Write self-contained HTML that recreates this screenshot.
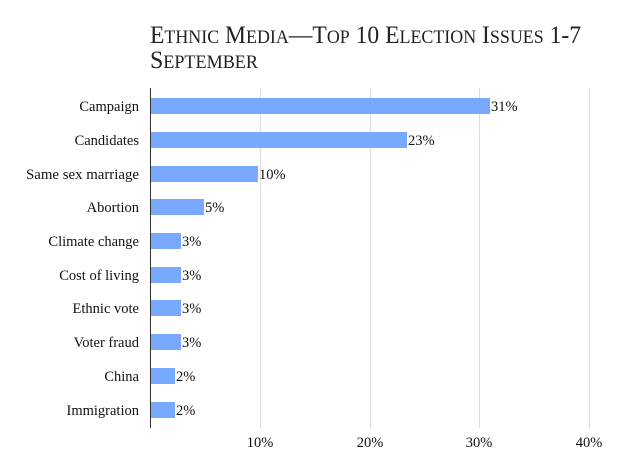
<!DOCTYPE html>
<html><head><meta charset="utf-8"><style>body{margin:0;background:#fff}svg{display:block}text{font-family:"Liberation Serif","DejaVu Serif",serif}</style></head><body>
<svg width="629" height="472" xmlns="http://www.w3.org/2000/svg">
<text x="150" y="43" font-size="25" fill="#222" textLength="431" lengthAdjust="spacingAndGlyphs">E<tspan font-size="19">THNIC</tspan> M<tspan font-size="19">EDIA</tspan>—T<tspan font-size="19">OP</tspan> 10 E<tspan font-size="19">LECTION</tspan> I<tspan font-size="19">SSUES</tspan> 1-7</text>
<text x="150" y="68" font-size="25" fill="#222" textLength="108" lengthAdjust="spacingAndGlyphs">S<tspan font-size="19">EPTEMBER</tspan></text>
<g stroke="#ddd" stroke-width="1">
<line x1="260.5" y1="88" x2="260.5" y2="428"/><line x1="370.5" y1="88" x2="370.5" y2="428"/><line x1="479.5" y1="88" x2="479.5" y2="428"/><line x1="589.5" y1="88" x2="589.5" y2="428"/>
</g>
<g fill="#78a9ff">
<rect x="150" y="98" width="340" height="16"/>
<rect x="150" y="132" width="257" height="16"/>
<rect x="150" y="166" width="108" height="16"/>
<rect x="150" y="199" width="54" height="16"/>
<rect x="150" y="233" width="31" height="16"/>
<rect x="150" y="267" width="31" height="16"/>
<rect x="150" y="300" width="31" height="16"/>
<rect x="150" y="334" width="31" height="16"/>
<rect x="150" y="368" width="25" height="16"/>
<rect x="150" y="402" width="25" height="16"/>
</g>
<line x1="150.5" y1="88" x2="150.5" y2="428" stroke="#333"/>
<g font-size="14.5" fill="#111" text-anchor="end">
<text x="139" y="111">Campaign</text>
<text x="139" y="145">Candidates</text>
<text x="139" y="179" textLength="113" lengthAdjust="spacingAndGlyphs">Same sex marriage</text>
<text x="139" y="212">Abortion</text>
<text x="139" y="246">Climate change</text>
<text x="139" y="280">Cost of living</text>
<text x="139" y="313">Ethnic vote</text>
<text x="139" y="347">Voter fraud</text>
<text x="139" y="381">China</text>
<text x="139" y="415">Immigration</text>
</g>
<g font-size="14.5" fill="#111">
<text x="491" y="111">31%</text>
<text x="408" y="145">23%</text>
<text x="259" y="179">10%</text>
<text x="205" y="212">5%</text>
<text x="182" y="246">3%</text>
<text x="182" y="280">3%</text>
<text x="182" y="313">3%</text>
<text x="182" y="347">3%</text>
<text x="176" y="381">2%</text>
<text x="176" y="415">2%</text>
</g>
<g font-size="14.5" fill="#111" text-anchor="middle">
<text x="260" y="447">10%</text><text x="370" y="447">20%</text><text x="479" y="447">30%</text><text x="589" y="447">40%</text>
</g>
</svg>
</body></html>
